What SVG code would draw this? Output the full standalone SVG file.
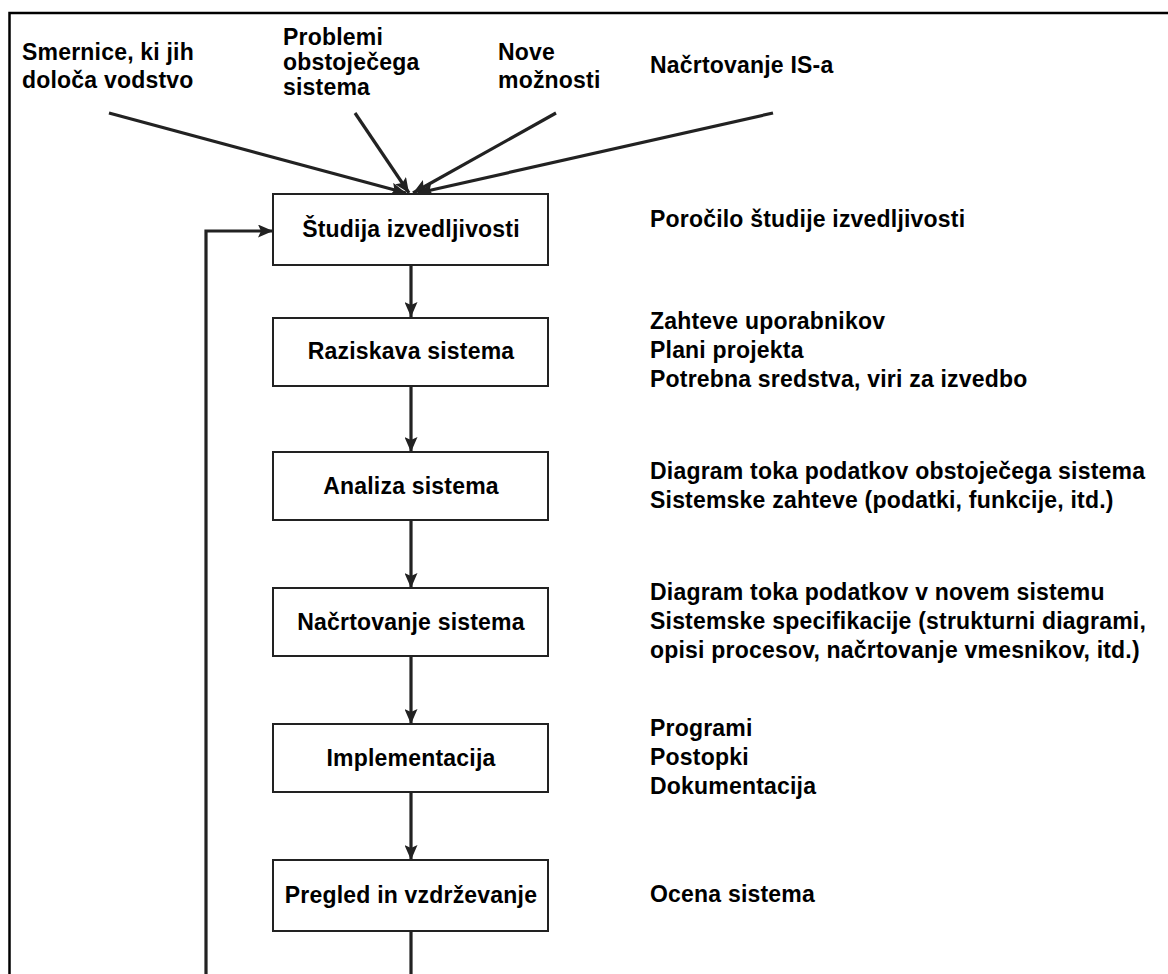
<svg xmlns="http://www.w3.org/2000/svg" width="1168" height="974" viewBox="0 0 1168 974">
<style>
  text { font-family: "Liberation Sans", Arial, sans-serif; font-weight: bold; font-size: 23px; letter-spacing: 0.2px; fill: #000; }
  .c { text-anchor: middle; }
  .box { fill: #fff; stroke: #222; stroke-width: 2; }
  .ln { fill: none; stroke: #222; stroke-width: 3.2; }
  .frame { fill: none; stroke: #000; stroke-width: 2.5; }
</style>
<defs>
  <marker id="ah" viewBox="0 0 15 13" refX="15" refY="6.5" markerWidth="15" markerHeight="13" markerUnits="userSpaceOnUse" orient="auto">
    <path d="M0,0 L15,6.5 L0,13 L3,6.5 Z" fill="#222"/>
  </marker>
</defs>
<rect width="1168" height="974" fill="#fff"/>
<path class="frame" d="M9.5,980 V13 H1175"/>

<g id="inputs">
  <text x="22" y="60">Smernice, ki jih</text>
  <text x="22" y="88">določa vodstvo</text>
  <text x="283" y="45">Problemi</text>
  <text x="283" y="70">obstoječega</text>
  <text x="283" y="95">sistema</text>
  <text x="498" y="60">Nove</text>
  <text x="498" y="88">možnosti</text>
  <text x="650" y="73">Načrtovanje IS-a</text>
</g>

<g id="connectors">
  <line class="ln" x1="109" y1="113" x2="406" y2="193" marker-end="url(#ah)"/>
  <line class="ln" x1="355" y1="113" x2="409" y2="193" marker-end="url(#ah)"/>
  <line class="ln" x1="556" y1="113" x2="413" y2="193" marker-end="url(#ah)"/>
  <line class="ln" x1="773" y1="113" x2="418" y2="193" marker-end="url(#ah)"/>
  <line class="ln" x1="411" y1="265" x2="411" y2="317" marker-end="url(#ah)"/>
  <line class="ln" x1="411" y1="386" x2="411" y2="452" marker-end="url(#ah)"/>
  <line class="ln" x1="411" y1="520" x2="411" y2="588" marker-end="url(#ah)"/>
  <line class="ln" x1="411" y1="656" x2="411" y2="724" marker-end="url(#ah)"/>
  <line class="ln" x1="411" y1="792" x2="411" y2="860" marker-end="url(#ah)"/>
  <line class="ln" x1="411" y1="931" x2="411" y2="980"/>
  <path class="ln" d="M206,980 V231 H273" marker-end="url(#ah)"/>
</g>

<g id="n1">
  <rect class="box" x="273" y="194" width="275" height="71"/>
  <text class="c" x="411" y="237">Študija izvedljivosti</text>
</g>
<g id="n2">
  <rect class="box" x="273" y="318" width="275" height="68"/>
  <text class="c" x="411" y="359">Raziskava sistema</text>
</g>
<g id="n3">
  <rect class="box" x="273" y="452" width="275" height="68"/>
  <text class="c" x="411" y="494">Analiza sistema</text>
</g>
<g id="n4">
  <rect class="box" x="273" y="588" width="275" height="68"/>
  <text class="c" x="411" y="630">Načrtovanje sistema</text>
</g>
<g id="n5">
  <rect class="box" x="273" y="724" width="275" height="68"/>
  <text class="c" x="411" y="766">Implementacija</text>
</g>
<g id="n6">
  <rect class="box" x="273" y="860" width="275" height="71"/>
  <text class="c" x="411" y="903">Pregled in vzdrževanje</text>
</g>

<g id="outputs">
  <text x="650" y="227">Poročilo študije izvedljivosti</text>
  <text x="650" y="329">Zahteve uporabnikov</text>
  <text x="650" y="358">Plani projekta</text>
  <text x="650" y="387">Potrebna sredstva, viri za izvedbo</text>
  <text x="650" y="479">Diagram toka podatkov obstoječega sistema</text>
  <text x="650" y="508">Sistemske zahteve (podatki, funkcije, itd.)</text>
  <text x="650" y="600">Diagram toka podatkov v novem sistemu</text>
  <text x="650" y="629">Sistemske specifikacije (strukturni diagrami,</text>
  <text x="650" y="658">opisi procesov, načrtovanje vmesnikov, itd.)</text>
  <text x="650" y="736">Programi</text>
  <text x="650" y="765">Postopki</text>
  <text x="650" y="794">Dokumentacija</text>
  <text x="650" y="902">Ocena sistema</text>
</g>
</svg>
